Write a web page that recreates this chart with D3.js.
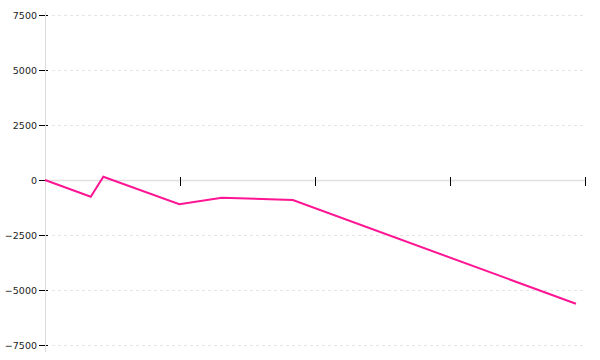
<!DOCTYPE html>
<html>
<head>
<meta charset="utf-8">
<script src="https://cdn.jsdelivr.net/npm/d3@7"></script>
<style>
  body { margin: 0; background: #fff; }
  svg { display: block; }
</style>
</head>
<body>
<script>
// values
const xs = [0, 0.339, 0.432, 0.995, 1.309, 1.836, 3.933];
const ys = [0, -760, 150, -1105, -805, -910, -5623];
const xTicks = [1, 2, 3, 4];
const yTicks = [-7500, -5000, -2500, 0, 2500, 5000, 7500];

const width = 600;
const height = 360;
const margin = { top: 15, right: 15, bottom: 15, left: 45 };

const data = xs.map((x, i) => ({ x, y: ys[i] }));

const x = d3.scaleLinear()
  .domain([0, 4])
  .range([margin.left, width - margin.right]);

const y = d3.scaleLinear()
  .domain([-7500, 7500])
  .range([height - margin.bottom, margin.top]);

const svg = d3.select('body').append('svg')
  .attr('width', width)
  .attr('height', height);

// dashed grid
svg.append('g')
  .selectAll('line')
  .data(yTicks.filter(d => d !== 0))
  .enter()
  .append('line')
  .attr('x1', margin.left + 7)
  .attr('x2', x(4))
  .attr('y1', d => y(d) + 0.5)
  .attr('y2', d => y(d) + 0.5)
  .attr('stroke', '#e4e4e4')
  .attr('stroke-dasharray', '3,3');

// y axis
const yAxis = svg.append('g')
  .attr('transform', `translate(${margin.left},0)`)
  .call(d3.axisLeft(y).tickValues(yTicks).tickSize(6).tickPadding(2).tickFormat(d3.format('')))
  .call(g => g.select('.domain').remove());

yAxis.selectAll('.tick line')
  .attr('x1', 3)
  .attr('stroke', '#000');

yAxis.selectAll('text')
  .attr('font-family', 'DejaVu Sans, Verdana, sans-serif')
  .attr('font-size', 9.5)
  .attr('fill', '#222');

svg.append('line')
  .attr('x1', margin.left + 0.5)
  .attr('x2', margin.left + 0.5)
  .attr('y1', margin.top - 3)
  .attr('y2', height - 8)
  .attr('stroke', '#dcdcdc');

// x axis along zero
svg.append('line')
  .attr('x1', margin.left)
  .attr('x2', x(4))
  .attr('y1', y(0) + 0.5)
  .attr('y2', y(0) + 0.5)
  .attr('stroke', '#e0e0e0')
  .attr('stroke-width', 1.5);

svg.append('g')
  .selectAll('line')
  .data(xTicks)
  .enter()
  .append('line')
  .attr('x1', d => x(d) + 0.5)
  .attr('x2', d => x(d) + 0.5)
  .attr('y1', y(0) - 3)
  .attr('y2', y(0) + 6)
  .attr('stroke', '#000');

// series
svg.append('path')
  .datum(data)
  .attr('fill', 'none')
  .attr('stroke', '#ff1493')
  .attr('stroke-width', 2)
  .attr('d', d3.line().x(d => x(d.x)).y(d => y(d.y)));
</script>
</body>
</html>
